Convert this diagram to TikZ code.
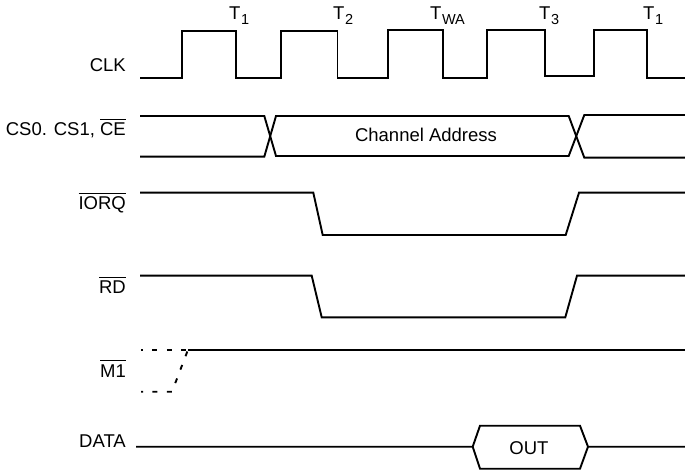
\documentclass[tikz,border=0pt]{standalone}
\usepackage{fontspec}
\setmainfont{Liberation Sans}
\newcommand{\sigbar}[1]{\leavevmode\vbox{\hrule height 1.3pt \kern 3pt \hbox{#1}}}
\newcommand{\tstate}[1]{T\kern0.5pt\raisebox{-4.5pt}{\fontsize{14.5}{16}\selectfont #1}}

\begin{document}
\begin{tikzpicture}[x=1pt,y=-1pt,line join=miter,
  wave/.style={line width=1.9pt},
  dashwave/.style={wave,dash pattern=on 5pt off 9.4pt,dash phase=3pt}]

    % `siglabel' is used for the names on the left.
    % `phase' is used for the T states above the clock.
    \tikzstyle{siglabel} = [anchor=base east,inner sep=0pt,font=\fontsize{18.5}{22}\selectfont]
    \tikzstyle{phase} = [anchor=base west,inner sep=0pt,font=\fontsize{18.5}{22}\selectfont]
    \tikzstyle{buslabel} = [inner sep=0pt,font=\fontsize{18.5}{22}\selectfont]
    %
    \useasboundingbox (0,0) rectangle (685,470);

    % Names of the signals.
    \node[siglabel] (clk) at (126,72) {CLK};
    \node[siglabel] (cs) at (126,136) {CS0. CS1, \sigbar{CE}};
    \node[siglabel] (iorq) at (126,210) {\sigbar{IORQ}};
    \node[siglabel] (rd) at (126,294) {\sigbar{RD}};
    \node[siglabel] (mone) at (126,377) {\sigbar{M1}};
    \node[siglabel] (data) at (126,447) {DATA};

    % T states.
    \node[phase] (t1) at (229,20) {\tstate{1}};
    \node[phase] (t2) at (333,20) {\tstate{2}};
    \node[phase] (twa) at (430,20) {\tstate{WA}};
    \node[phase] (t3) at (539,20) {\tstate{3}};
    \node[phase] (t4) at (643,20) {\tstate{1}};

    % CLK.
    \draw[wave] (140,77.7) -- (182.3,77.7) -- (182.3,31) -- (236,31) -- (236,77.7)
      -- (281,77.7) -- (281,31) -- (337.5,31) -- (337.5,77.7)
      -- (388,77.7) -- (388,30) -- (442.7,30) -- (442.7,77.7)
      -- (487,77.7) -- (487,30) -- (545,30) -- (545,75.7)
      -- (594.3,75.7) -- (594.3,30) -- (647,30) -- (647,77.7) -- (685,77.7);

    % Address lines.
    \node[buslabel] (addr) at (426,135) {Channel Address};
    \draw[wave] (140,116) -- (264.3,116) -- (276,156) -- (568.7,156) -- (584.3,115) -- (685,115);
    \draw[wave] (140,156.7) -- (264.3,156.7) -- (276,116) -- (568.7,116) -- (584.3,157.7) -- (685,157.7);

    % Read strobes.
    \draw[wave] (140,192.7) -- (313.3,192.7) -- (322.7,235) -- (565.7,235) -- (579,192.7) -- (685,192.7);
    \draw[wave] (140,275.7) -- (311.7,275.7) -- (321.7,317.3) -- (565.3,317.3) -- (577,275.7) -- (685,275.7);

    % M1, unknown before the first edge.
    \draw[dashwave] (141,349.7) -- (188,349.7);
    \draw[dashwave] (141,391.7) -- (172,391.7) -- (188,349.7);
    \draw[wave] (188,349.7) -- (685,349.7);

    % DATA.
    \node[buslabel] (out) at (529,448) {OUT};
    \draw[wave] (136,446.7) -- (472.7,446.7) -- (480,425.7) -- (580,425.7) -- (588,446.7) -- (685,446.7);
    \draw[wave] (472.7,446.7) -- (480,468.7) -- (580,468.7) -- (588,446.7);
    %
\end{tikzpicture}
\end{document}
